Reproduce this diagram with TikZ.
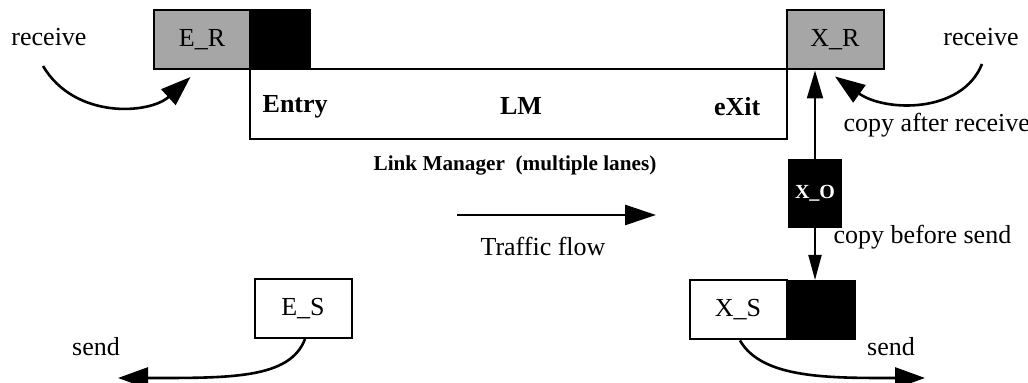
\documentclass[tikz,border=0pt]{standalone}
\usepackage{fontspec}
\setmainfont{Liberation Serif}
\usetikzlibrary{arrows.meta,positioning}

\begin{document}
\begin{tikzpicture}[x=0.5pt,y=-0.5pt,line width=1pt,
    font=\fontsize{13}{15}\selectfont,
    box/.style={draw,inner sep=0pt,minimum width=48.5pt,minimum height=29.5pt},
    graybox/.style={box,fill=black!35},
    blackbox/.style={box,fill=black},
    boldlbl/.style={font=\fontsize{13}{15}\selectfont\bfseries},
    curvetip/.style={-{Triangle[length=15pt,width=10.5pt]},line width=1.3pt},
    uptip/.style={-{Triangle[length=14pt,width=8pt]}},
    downtip/.style={-{Triangle[length=12.5pt,width=6.5pt]}},
    flowtip/.style={-{Triangle[length=15.5pt,width=10pt]},line width=1.3pt}]
  \useasboundingbox (0,0) rectangle (1028,383);

  % entry side
  \node [graybox] (er) at (202,39.5) {E\_R};
  \node [blackbox,minimum width=30pt] (erb) at (280,39.5) {};
  \node [box,minimum width=268.5pt,minimum height=35pt] (lm) at (518.5,104) {};
  \node [boldlbl,anchor=west] (entry) at (255,107) {Entry};
  \node [boldlbl] (lmtext) at (521,106) {LM};
  \node [boldlbl,anchor=east] (exit) at (768,107) {eXit};
  \node [font=\fontsize{10.6}{12}\selectfont\bfseries] (lmlabel) at (515,165) {Link Manager\ \ (multiple lanes)};

  % exit side
  \node [graybox] (xr) at (835,40) {X\_R};
  \node [blackbox,minimum width=26pt,minimum height=33.5pt,text=white,
         font=\fontsize{10}{12}\selectfont\bfseries] (xo) at (815,193.5) {X\_O};
  \node [box] (xs) at (738,310) {X\_S};
  \node [blackbox,minimum width=34pt,minimum height=29pt] (xsb) at (821,310) {};
  \node [box] (es) at (303,308.5) {E\_S};

  % labels
  \node (recvl) at (49,37) {receive};
  \node (recvr) at (981,37) {receive};
  \node (sendl) at (96,347) {send};
  \node (sendr) at (891,347) {send};
  \node [anchor=west] (cpafter) at (836,125) {copy after receive};
  \node [anchor=west] (cpbefore) at (826,237) {copy before send};
  \node (flow) at (543,246) {Traffic flow};

  \coordinate (rl) at (43,66);
  \coordinate (rr) at (982,64);
  \coordinate (sl) at (118,378);
  \coordinate (sr) at (925,378);
  \coordinate (f1) at (457,215);
  \coordinate (f2) at (656,215);

  \draw[curvetip] (rl) .. controls (75,120) and (150,114) .. ([shift={(38,7)}]er.south west);
  \draw[curvetip] (rr) .. controls (962,114) and (885,112) .. ([shift={(0,6)}]xr.south);
  \draw[curvetip] ([xshift=1pt]es.south) .. controls (290,379) and (230,378) .. (sl);
  \draw[curvetip] ([xshift=1pt]xs.south) .. controls (762,379) and (830,378) .. (sr);
  \draw[flowtip] (f1) -- (f2);
  \draw[uptip] (xo.north) -- (xo.north |- xr.south);
  \draw[downtip] (xo.south) -- (xo.south |- xsb.north);
\end{tikzpicture}
\end{document}
